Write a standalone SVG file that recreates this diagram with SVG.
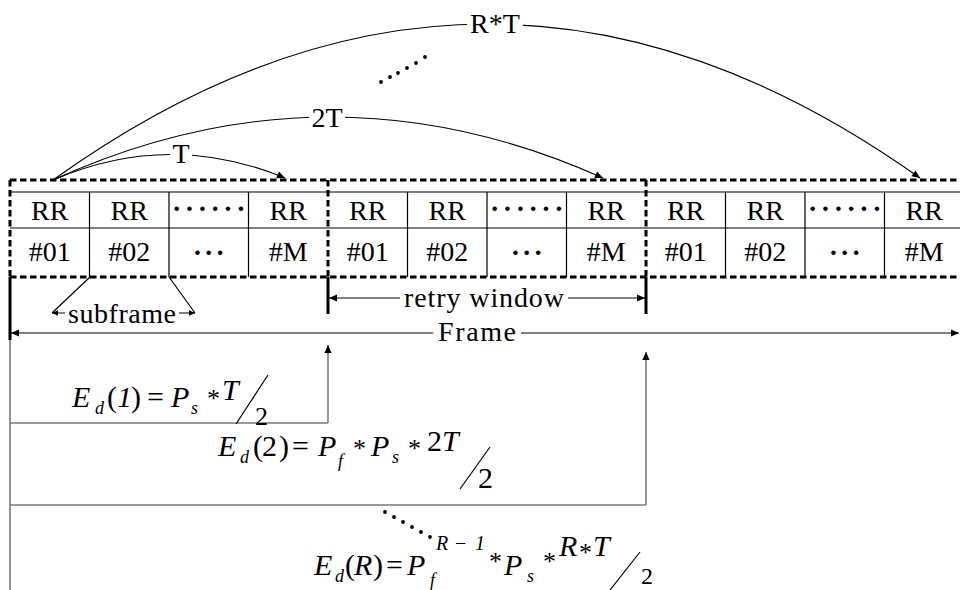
<svg xmlns="http://www.w3.org/2000/svg" width="960" height="590" viewBox="0 0 960 590" font-family="Liberation Serif, Times New Roman, serif">
<style>
.lbl{font-size:28px;text-anchor:middle}
.cell{font-size:28px;text-anchor:middle}
.dots{font-size:28px;text-anchor:middle;font-weight:bold}
.dash{fill:none;stroke:#000;stroke-width:3;stroke-dasharray:6.5 3.5}
.thin{fill:none;stroke:#000;stroke-width:1.2}
.thick{fill:none;stroke:#000;stroke-width:3}
.gray{fill:none;stroke:#7a7a7a;stroke-width:1.6}
.arc{fill:none;stroke:#000;stroke-width:1.1;marker-end:url(#ah)}
.dbl{fill:none;stroke:#000;stroke-width:1.2;marker-start:url(#ah);marker-end:url(#ah)}
.dbls{fill:none;stroke:#000;stroke-width:1.2;marker-start:url(#ahs);marker-end:url(#ahs)}
.up{fill:none;stroke:#7a7a7a;stroke-width:1.6;marker-end:url(#ah)}
.mi{font-style:italic;font-size:30px}
.mu{font-size:30px}
.den{font-size:26px}
.ms{font-style:italic;font-size:18px}
.sup{font-style:italic;font-size:20px}
.ast{font-size:26px}
.bg{fill:#fff}
.dot{fill:#000}
</style>
<defs>
<marker id="ah" viewBox="0 0 10 10" refX="10" refY="5" markerWidth="10" markerHeight="8" markerUnits="userSpaceOnUse" orient="auto-start-reverse"><path d="M0,0.5 L10,5 L0,9.5 z" fill="#000"/></marker>
<marker id="ahs" viewBox="0 0 10 10" refX="10" refY="5" markerWidth="8" markerHeight="6" markerUnits="userSpaceOnUse" orient="auto-start-reverse"><path d="M0,0.5 L10,5 L0,9.5 z" fill="#000"/></marker>
</defs>
<rect width="960" height="590" fill="#fff"/>

<g id="connectors">
<path class="arc" d="M53,180 Q169,130 285,178"/>
<path class="arc" d="M53,180 Q328,55 603,178"/>
<path class="arc" d="M53,180 Q486,-131 920,178"/>
<path class="dbl" d="M11,333 H959"/>
<path class="dbl" d="M329,298 H645"/>
<path class="dbls" d="M52,313 H195"/>
<path class="thin" d="M90,277 L52,313 M169,277 L195,313"/>
<path class="thick" d="M10,277 V340 M328,277 V314 M646,277 V314"/>
<path class="gray" d="M10,340 V590 M10,423 H328 M10,505 H646"/>
<path class="up" d="M328,423 V345"/>
<path class="up" d="M646,505 V352"/>
</g>

<g id="arc-labels">
<rect class="bg" x="170" y="146" width="22" height="18"/>
<text class="lbl" x="181" y="163">T</text>
<rect class="bg" x="309" y="109" width="36" height="19"/>
<text class="lbl" x="327" y="127">2T</text>
<rect class="bg" x="467" y="13" width="56" height="21"/>
<text class="lbl" x="495" y="33">R*T</text>
<g id="dots-top">
<circle class="dot" cx="381" cy="82" r="1.9"/><circle class="dot" cx="390" cy="77" r="1.9"/><circle class="dot" cx="398" cy="73" r="1.9"/><circle class="dot" cx="407" cy="68" r="1.9"/><circle class="dot" cx="416" cy="63" r="1.9"/><circle class="dot" cx="425" cy="57" r="1.9"/>
</g>
</g>

<g id="table-lines">
<path class="thin" d="M10,192 H960 M10,228 H960 M89.5,192 V277 M169,192 V277 M248.5,192 V277 M407.5,192 V277 M487,192 V277 M566.5,192 V277 M725.5,192 V277 M805,192 V277 M884.5,192 V277"/>
</g>

<g id="frame1">
<text class="cell" x="49.75" y="220">RR</text>
<text class="cell" x="129.25" y="220">RR</text>
<text class="dots" x="210.5" y="218" letter-spacing="3.5">······</text>
<text class="cell" x="288.25" y="220">RR</text>
<text class="cell" x="49.75" y="261">#01</text>
<text class="cell" x="129.25" y="261">#02</text>
<text class="dots" x="209.75" y="262" letter-spacing="2">···</text>
<text class="cell" x="288.25" y="261">#M</text>
</g>
<g id="frame2">
<text class="cell" x="367.75" y="220">RR</text>
<text class="cell" x="447.25" y="220">RR</text>
<text class="dots" x="528.5" y="218" letter-spacing="3.5">······</text>
<text class="cell" x="606.25" y="220">RR</text>
<text class="cell" x="367.75" y="261">#01</text>
<text class="cell" x="447.25" y="261">#02</text>
<text class="dots" x="527.75" y="262" letter-spacing="2">···</text>
<text class="cell" x="606.25" y="261">#M</text>
</g>
<g id="frame3">
<text class="cell" x="685.75" y="220">RR</text>
<text class="cell" x="765.25" y="220">RR</text>
<text class="dots" x="846.5" y="218" letter-spacing="3.5">······</text>
<text class="cell" x="924.25" y="220">RR</text>
<text class="cell" x="685.75" y="261">#01</text>
<text class="cell" x="765.25" y="261">#02</text>
<text class="dots" x="845.75" y="262" letter-spacing="2">···</text>
<text class="cell" x="924.25" y="261">#M</text>
</g>

<g id="frame-borders">
<path class="dash" d="M10,180 H962 M10,277 H962 M10,180 V277 M328,180 V277 M646,180 V277"/>
</g>

<g id="span-labels">
<rect class="bg" x="65" y="303" width="114" height="14"/>
<text class="lbl" x="122" y="323" textLength="108">subframe</text>
<rect class="bg" x="400" y="288" width="168" height="20"/>
<text class="lbl" x="484" y="307" textLength="160">retry window</text>
<rect class="bg" x="433" y="322" width="88" height="22"/>
<text class="lbl" x="477" y="341" textLength="78">Frame</text>
</g>

<g id="formula1">
<text><tspan class="mi" x="72" y="407">E</tspan><tspan class="ms" x="95" y="414">d</tspan><tspan class="mu" x="107" y="407">(</tspan><tspan class="mi" x="117" y="407">1</tspan><tspan class="mu" x="131" y="407">)</tspan><tspan class="mu" x="147" y="407">=</tspan><tspan class="mi" x="171" y="407">P</tspan><tspan class="ms" x="191" y="414">s</tspan><tspan class="ast" x="207" y="407">*</tspan><tspan class="mi" x="222" y="400">T</tspan><tspan class="den" x="255" y="425">2</tspan></text>
<path class="thin" d="M236,424 L268,375"/>
</g>

<g id="formula2">
<text><tspan class="mi" x="218" y="456">E</tspan><tspan class="ms" x="240" y="463">d</tspan><tspan class="mu" x="253" y="456">(</tspan><tspan class="mu" x="262" y="456">2</tspan><tspan class="mu" x="279" y="456">)</tspan><tspan class="mu" x="292" y="456">=</tspan><tspan class="mi" x="318" y="456">P</tspan><tspan class="ms" x="338" y="467">f</tspan><tspan class="ast" x="353" y="457">*</tspan><tspan class="mi" x="371" y="456">P</tspan><tspan class="ms" x="392" y="463">s</tspan><tspan class="ast" x="408" y="457">*</tspan><tspan class="mu" x="427" y="451">2</tspan><tspan class="mi" x="442" y="451">T</tspan><tspan class="mu" x="478" y="488">2</tspan></text>
<path class="thin" d="M460,489 L490,447"/>
</g>

<g id="dots-bottom">
<circle class="dot" cx="385" cy="512" r="1.9"/><circle class="dot" cx="394" cy="517" r="1.9"/><circle class="dot" cx="403" cy="522" r="1.9"/><circle class="dot" cx="412" cy="527" r="1.9"/><circle class="dot" cx="421" cy="532" r="1.9"/><circle class="dot" cx="430" cy="537" r="1.9"/>
</g>

<g id="formula3">
<text><tspan class="mi" x="314" y="575">E</tspan><tspan class="ms" x="335" y="582">d</tspan><tspan class="mu" x="345" y="575">(</tspan><tspan class="mi" x="354" y="575">R</tspan><tspan class="mu" x="373" y="575">)</tspan><tspan class="mu" x="386" y="575">=</tspan><tspan class="mi" x="407" y="575">P</tspan><tspan class="ms" x="430" y="586">f</tspan><tspan class="sup" x="436" y="550">R</tspan><tspan class="sup" x="455" y="550" style="font-style:normal">−</tspan><tspan class="sup" x="475" y="550">1</tspan><tspan class="ast" x="489" y="570">*</tspan><tspan class="mi" x="504" y="575">P</tspan><tspan class="ms" x="527" y="582">s</tspan><tspan class="ast" x="543" y="570">*</tspan><tspan class="mi" x="559" y="556">R</tspan><tspan class="ast" x="579" y="561">*</tspan><tspan class="mi" x="593" y="556">T</tspan><tspan x="641" y="584" style="font-size:24px">2</tspan></text>
<path class="thin" d="M610,590 L640,552"/>
</g>
</svg>
